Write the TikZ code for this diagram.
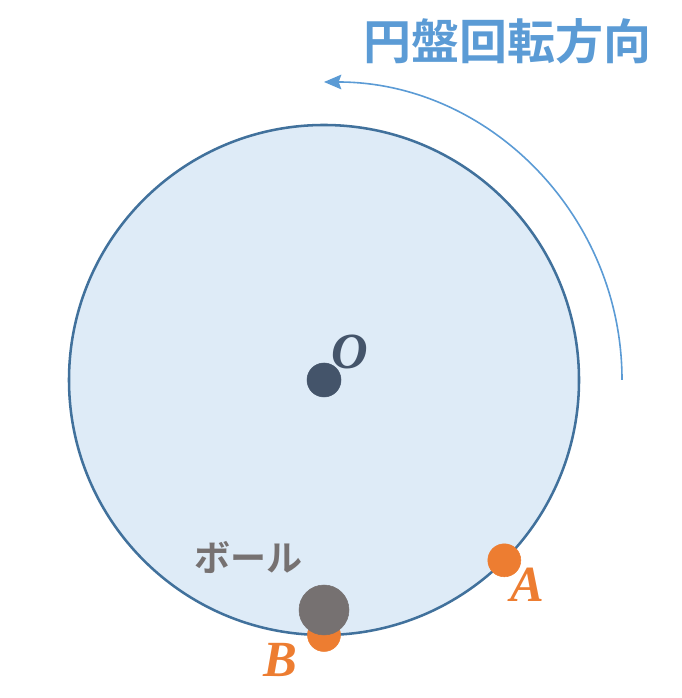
\documentclass[tikz,border=0pt]{standalone}
\usepackage{fontspec}
\newfontfamily\jpfont{Noto Sans CJK JP}[BoldFont={* Bold}]
\newfontfamily\ptfont{Liberation Serif}
\usetikzlibrary{arrows.meta,calc}

\definecolor{diskfill}{HTML}{DEEBF7}
\definecolor{diskedge}{HTML}{41719C}
\definecolor{spinblue}{HTML}{5B9BD5}
\definecolor{centergray}{HTML}{44546A}
\definecolor{markorange}{HTML}{ED7D31}
\definecolor{ballgray}{HTML}{767171}

\tikzset{
  ptlabel/.style={font=\ptfont\fontsize{38}{38}\selectfont\bfseries\itshape},
}

\begin{document}
\begin{tikzpicture}[x=0.75pt,y=0.75pt]
  \useasboundingbox (0,0) rectangle (681,698);

  \coordinate (o) at (324,318);
  \coordinate (a) at ($(o)+(-45:255)$);
  \coordinate (b) at ($(o)+(-90:255)$);
  \coordinate (ball) at ($(o)+(-90:230)$);
  \coordinate (arc_start) at ($(o)+(0:298)$);

  % disk
  \filldraw[fill=diskfill, draw=diskedge, line width=1.9pt] (o) circle[radius=255];

  % rotation direction
  \draw[spinblue, line width=1.2pt, -{Stealth[length=13pt,width=11pt,inset=2pt]}]
    (arc_start) arc[start angle=0, end angle=90, radius=298];
  \node[spinblue, font=\jpfont\bfseries\fontsize{36}{36}\selectfont] (title) at (507,657) {円盤回転方向};

  % points
  \filldraw[centergray] (o) circle[radius=17];
  \node[ptlabel, text=centergray] (o_label) at (350,346) {O};

  \filldraw[markorange] (a) circle[radius=16.5];
  \node[ptlabel, text=markorange] (a_label) at (527,113) {A};

  \filldraw[markorange] (b) circle[radius=16.5];
  \node[ptlabel, text=markorange] (b_label) at (280,38) {B};

  \filldraw[ballgray] (ball) circle[radius=25];
  \node[ballgray, font=\jpfont\bfseries\fontsize{27}{27}\selectfont] (ball_label) at (248,141) {ボール};
\end{tikzpicture}
\end{document}
